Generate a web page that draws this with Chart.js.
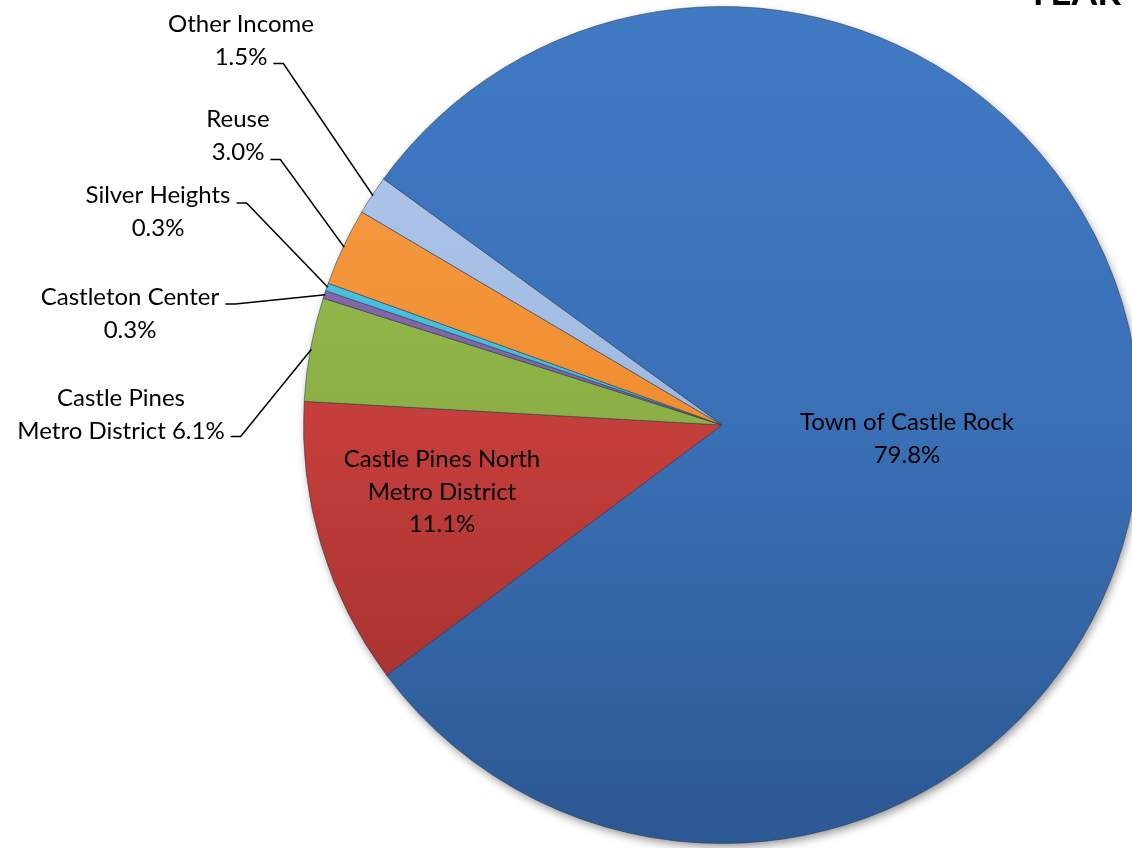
<!DOCTYPE html>
<html>
<head>
<meta charset="utf-8">
<script src="https://cdn.jsdelivr.net/npm/chart.js@4.4.0/dist/chart.umd.min.js"></script>
<style>
html,body{margin:0;padding:0;overflow:hidden;background:#fff;width:1132px;height:848px}
#wrap{position:absolute;left:0;top:0;width:1142px;height:848px}
</style>
</head>
<body>
<div id="wrap"><canvas id="c"></canvas></div>
<script>
// ---- data ----
const categories = ['Town of Castle Rock', 'Castle Pines North Metro District', 'Castle Pines Metro District', 'Castleton Center', 'Silver Heights', 'Reuse', 'Other Income'];
const shares = [79.8, 11.1, 4.0, 0.3, 0.3, 3.0, 1.5];          // slice sizes as drawn
const shareLabels = ['79.8%', '11.1%', '6.1%', '0.3%', '0.3%', '3.0%', '1.5%']; // printed labels
const titleText = 'YEAR';

// ---- styles ----
const sliceColors = [
  ['#3F7AC3', '#3A70B6', '#2C5893'],
  ['#D8504C', '#C43E3B', '#982C2A'],
  ['#9CC452', '#8BAF44', '#708E34'],
  ['#8E71B2', '#7E62A3', '#654D86'],
  ['#55C8E4', '#45BBD9', '#2F9BB8'],
  ['#F7A04A', '#F08E30', '#D8781C'],
  ['#B2CAEC', '#A0B9E1', '#8AA3CC']
];
const FONT = '24px Lato, "Open Sans", sans-serif';
const LINE_H = 32.5;

// label layout relative to pie centre: dx = centre of text, dy = baseline of first line
const labelLayout = [
  {lines: ['Town of Castle Rock'], joinPct: false, dx: 185, dy: 5, leader: null},
  {lines: ['Castle Pines North', 'Metro District'], joinPct: false, dx: -280, dy: 42, leader: null},
  {lines: ['Castle Pines', 'Metro District'], joinPct: true, dx: -601, dy: -19, leader: 1, ly: -2},
  {lines: ['Castleton Center'], joinPct: false, dx: -592, dy: -120, leader: 0, ly: -1},
  {lines: ['Silver Heights'], joinPct: false, dx: -564, dy: -222, leader: 0, ly: 0},
  {lines: ['Reuse'], joinPct: false, dx: -484, dy: -298, leader: 1, ly: 0},
  {lines: ['Other Income'], joinPct: false, dx: -481, dy: -393, leader: 1, ly: -1}
];

function buildLines(i) {
  const L = labelLayout[i].lines.slice();
  if (labelLayout[i].joinPct) L[L.length - 1] = L[L.length - 1] + ' ' + shareLabels[i];
  else L.push(shareLabels[i]);
  return L;
}

const shadowPlugin = {
  id: 'pieShadow',
  beforeDatasetsDraw(chart) {
    const arc = chart.getDatasetMeta(0).data[0];
    if (!arc) return;
    const ctx = chart.ctx;
    ctx.save();
    ctx.shadowColor = 'rgba(0,0,0,0.45)';
    ctx.shadowBlur = 10;
    ctx.shadowOffsetX = 2;
    ctx.shadowOffsetY = 4;
    ctx.beginPath();
    ctx.arc(arc.x, arc.y, arc.outerRadius - 1, 0, Math.PI * 2);
    ctx.fillStyle = '#3A70B6';
    ctx.fill();
    ctx.restore();
  }
};

const labelPlugin = {
  id: 'pieLabels',
  afterDatasetsDraw(chart) {
    const ctx = chart.ctx;
    const meta = chart.getDatasetMeta(0);
    ctx.save();
    ctx.font = FONT;
    ctx.fillStyle = '#000';
    ctx.textBaseline = 'alphabetic';
    ctx.textAlign = 'center';
    meta.data.forEach((arc, i) => {
      const lay = labelLayout[i];
      const lines = buildLines(i);
      const cx = arc.x + lay.dx;
      const y0 = arc.y + lay.dy;
      lines.forEach((t, k) => ctx.fillText(t, cx, y0 + k * LINE_H));
      if (lay.leader !== null) {
        const t = lines[lay.leader];
        const w = ctx.measureText(t).width;
        const sx = cx + w / 2 + 6;
        const sy = y0 + lay.leader * LINE_H + lay.ly;
        const mid = (arc.startAngle + arc.endAngle) / 2;
        const ex = arc.x + Math.cos(mid) * (arc.outerRadius - 1);
        const ey = arc.y + Math.sin(mid) * (arc.outerRadius - 1);
        ctx.beginPath();
        ctx.strokeStyle = '#000';
        ctx.lineWidth = 1.5;
        ctx.moveTo(sx, sy);
        ctx.lineTo(sx + 10, sy);
        ctx.lineTo(ex, ey);
        ctx.stroke();
      }
    });
    // title (cut off at top edge in the original)
    ctx.font = 'bold 37px Lato, "Open Sans", sans-serif';
    ctx.textAlign = 'right';
    ctx.fillText(titleText, 1121, 5);
    ctx.restore();
  }
};

function sliceFill(context) {
  const chart = context.chart;
  const area = chart.chartArea;
  const c = sliceColors[context.dataIndex];
  if (!area) return c[1];
  const g = chart.ctx.createLinearGradient(0, area.top, 0, area.bottom);
  g.addColorStop(0, c[0]);
  g.addColorStop(0.5, c[1]);
  g.addColorStop(1, c[2]);
  return g;
}

new Chart(document.getElementById('c'), {
  type: 'pie',
  data: {
    labels: categories,
    datasets: [{
      data: shares,
      backgroundColor: sliceFill,
      borderColor: 'rgba(50,60,80,0.55)',
      borderWidth: 1
    }]
  },
  options: {
    responsive: true,
    maintainAspectRatio: false,
    animation: false,
    rotation: 306,
    layout: {padding: {left: 303, right: 1, top: 6, bottom: 4}},
    plugins: {legend: {display: false}, tooltip: {enabled: false}, title: {display: false}}
  },
  plugins: [shadowPlugin, labelPlugin]
});
</script>
</body>
</html>
